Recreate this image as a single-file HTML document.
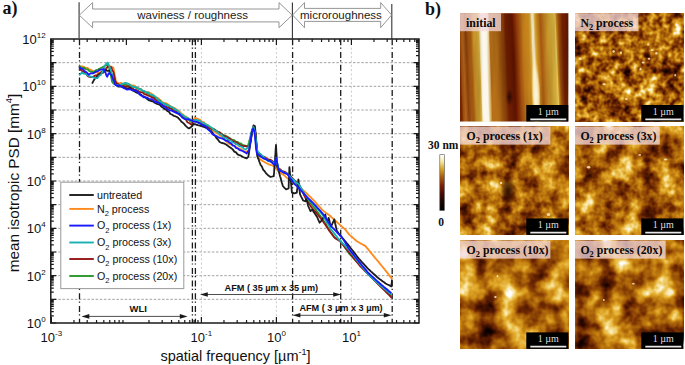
<!DOCTYPE html>
<html><head><meta charset="utf-8"><style>
html,body{margin:0;padding:0;background:#fff;overflow:hidden;width:685px;height:365px;}
svg{display:block;}
.gh{stroke:#999;stroke-width:0.9;stroke-dasharray:2.5 1.65;stroke-dashoffset:0.8;}
.gv{stroke:#c4c4c4;stroke-width:0.9;stroke-dasharray:2 2.3;}
.dd{stroke:#1a1a1a;stroke-width:1.3;stroke-dasharray:6 2.2 1.2 3.3;}
text{font-family:"Liberation Sans",sans-serif;fill:#111;}
.lg{font-size:10.7px;}
.ab{font-size:9.6px;font-weight:bold;}
.tl{font-size:13px;}
.ax{font-size:14.5px;}
.ay{font-size:15.3px;}
.tw{font-size:11.5px;fill:#1a1a1a;}
.pl{font-family:"Liberation Serif",serif;font-weight:bold;font-size:18px;}
.il{font-family:"Liberation Serif",serif;font-weight:bold;font-size:11.8px;fill:#0a0a0a;}
.sb{font-family:"Liberation Serif",serif;font-size:10px;fill:#dedede;}
.cb{font-family:"Liberation Serif",serif;font-weight:bold;font-size:11.5px;}
</style></head><body>
<svg width="685" height="365" viewBox="0 0 685 365">
<defs>
<filter id="f1" filterUnits="userSpaceOnUse" x="575.0" y="13.2" width="108.3" height="108.3" color-interpolation-filters="sRGB">
<feTurbulence type="fractalNoise" baseFrequency="0.05" numOctaves="2" seed="5"/>
<feColorMatrix type="matrix" values="1 0 0 0 0 1 0 0 0 0 1 0 0 0 0 0 0 0 0 1" result="A"/>
<feTurbulence type="fractalNoise" baseFrequency="0.160" numOctaves="2" seed="105"/>
<feColorMatrix type="matrix" values="1 0 0 0 0 1 0 0 0 0 1 0 0 0 0 0 0 0 0 1" result="Bn"/>
<feComposite in="A" in2="Bn" operator="arithmetic" k1="0" k2="0.980" k3="0.910" k4="-0.415"/>
<feColorMatrix type="matrix" values="1 0 0 0 0 1 0 0 0 0 1 0 0 0 0 0 0 0 0 1"/>
<feComponentTransfer><feFuncR type="table" tableValues="0 0.12 0.29 0.46 0.62 0.76 0.88 0.96 1"/><feFuncG type="table" tableValues="0 0.02 0.08 0.18 0.34 0.49 0.66 0.85 1"/><feFuncB type="table" tableValues="0 0 0 0.01 0.03 0.06 0.16 0.5 1"/></feComponentTransfer>
</filter>
<filter id="f2" filterUnits="userSpaceOnUse" x="460.0" y="126.6" width="108.3" height="108.3" color-interpolation-filters="sRGB">
<feTurbulence type="fractalNoise" baseFrequency="0.05" numOctaves="2" seed="11"/>
<feColorMatrix type="matrix" values="1 0 0 0 0 1 0 0 0 0 1 0 0 0 0 0 0 0 0 1" result="A"/>
<feTurbulence type="fractalNoise" baseFrequency="0.160" numOctaves="2" seed="111"/>
<feColorMatrix type="matrix" values="1 0 0 0 0 1 0 0 0 0 1 0 0 0 0 0 0 0 0 1" result="Bn"/>
<feComposite in="A" in2="Bn" operator="arithmetic" k1="0" k2="1.062" k3="0.500" k4="-0.236"/>
<feColorMatrix type="matrix" values="1 0 0 0 0 1 0 0 0 0 1 0 0 0 0 0 0 0 0 1"/>
<feComponentTransfer><feFuncR type="table" tableValues="0 0.12 0.29 0.46 0.62 0.76 0.88 0.96 1"/><feFuncG type="table" tableValues="0 0.02 0.08 0.18 0.34 0.49 0.66 0.85 1"/><feFuncB type="table" tableValues="0 0 0 0.01 0.03 0.06 0.16 0.5 1"/></feComponentTransfer>
</filter>
<filter id="f3" filterUnits="userSpaceOnUse" x="575.0" y="126.6" width="108.3" height="108.3" color-interpolation-filters="sRGB">
<feTurbulence type="fractalNoise" baseFrequency="0.05" numOctaves="2" seed="23"/>
<feColorMatrix type="matrix" values="1 0 0 0 0 1 0 0 0 0 1 0 0 0 0 0 0 0 0 1" result="A"/>
<feTurbulence type="fractalNoise" baseFrequency="0.160" numOctaves="2" seed="123"/>
<feColorMatrix type="matrix" values="1 0 0 0 0 1 0 0 0 0 1 0 0 0 0 0 0 0 0 1" result="Bn"/>
<feComposite in="A" in2="Bn" operator="arithmetic" k1="0" k2="1.020" k3="0.480" k4="-0.195"/>
<feColorMatrix type="matrix" values="1 0 0 0 0 1 0 0 0 0 1 0 0 0 0 0 0 0 0 1"/>
<feComponentTransfer><feFuncR type="table" tableValues="0 0.12 0.29 0.46 0.62 0.76 0.88 0.96 1"/><feFuncG type="table" tableValues="0 0.02 0.08 0.18 0.34 0.49 0.66 0.85 1"/><feFuncB type="table" tableValues="0 0 0 0.01 0.03 0.06 0.16 0.5 1"/></feComponentTransfer>
</filter>
<filter id="f4" filterUnits="userSpaceOnUse" x="460.0" y="240.6" width="108.3" height="108.3" color-interpolation-filters="sRGB">
<feTurbulence type="fractalNoise" baseFrequency="0.04" numOctaves="2" seed="37"/>
<feColorMatrix type="matrix" values="1 0 0 0 0 1 0 0 0 0 1 0 0 0 0 0 0 0 0 1" result="A"/>
<feTurbulence type="fractalNoise" baseFrequency="0.128" numOctaves="2" seed="137"/>
<feColorMatrix type="matrix" values="1 0 0 0 0 1 0 0 0 0 1 0 0 0 0 0 0 0 0 1" result="Bn"/>
<feComposite in="A" in2="Bn" operator="arithmetic" k1="0" k2="1.260" k3="0.420" k4="-0.270"/>
<feColorMatrix type="matrix" values="1 0 0 0 0 1 0 0 0 0 1 0 0 0 0 0 0 0 0 1"/>
<feComponentTransfer><feFuncR type="table" tableValues="0 0.12 0.29 0.46 0.62 0.76 0.88 0.96 1"/><feFuncG type="table" tableValues="0 0.02 0.08 0.18 0.34 0.49 0.66 0.85 1"/><feFuncB type="table" tableValues="0 0 0 0.01 0.03 0.06 0.16 0.5 1"/></feComponentTransfer>
</filter>
<filter id="f5" filterUnits="userSpaceOnUse" x="575.0" y="240.6" width="108.3" height="108.3" color-interpolation-filters="sRGB">
<feTurbulence type="fractalNoise" baseFrequency="0.04" numOctaves="2" seed="41"/>
<feColorMatrix type="matrix" values="1 0 0 0 0 1 0 0 0 0 1 0 0 0 0 0 0 0 0 1" result="A"/>
<feTurbulence type="fractalNoise" baseFrequency="0.128" numOctaves="2" seed="141"/>
<feColorMatrix type="matrix" values="1 0 0 0 0 1 0 0 0 0 1 0 0 0 0 0 0 0 0 1" result="Bn"/>
<feComposite in="A" in2="Bn" operator="arithmetic" k1="0" k2="1.350" k3="0.450" k4="-0.350"/>
<feColorMatrix type="matrix" values="1 0 0 0 0 1 0 0 0 0 1 0 0 0 0 0 0 0 0 1"/>
<feComponentTransfer><feFuncR type="table" tableValues="0 0.12 0.29 0.46 0.62 0.76 0.88 0.96 1"/><feFuncG type="table" tableValues="0 0.02 0.08 0.18 0.34 0.49 0.66 0.85 1"/><feFuncB type="table" tableValues="0 0 0 0.01 0.03 0.06 0.16 0.5 1"/></feComponentTransfer>
</filter>
<linearGradient id="gi" gradientUnits="userSpaceOnUse" x1="460" y1="0" x2="568.3" y2="0" gradientTransform="rotate(-2.3 514 67)"><stop offset="0.0000" stop-color="#7a2800"/><stop offset="0.0139" stop-color="#a05010"/><stop offset="0.0369" stop-color="#b86818"/><stop offset="0.0646" stop-color="#904010"/><stop offset="0.0877" stop-color="#a85c10"/><stop offset="0.1108" stop-color="#b06010"/><stop offset="0.1339" stop-color="#c89028"/><stop offset="0.1662" stop-color="#d0a030"/><stop offset="0.1847" stop-color="#e0b848"/><stop offset="0.1939" stop-color="#f0d878"/><stop offset="0.2078" stop-color="#fffaf0"/><stop offset="0.2447" stop-color="#fffaf0"/><stop offset="0.2585" stop-color="#e0b850"/><stop offset="0.2678" stop-color="#d0a030"/><stop offset="0.2816" stop-color="#b87018"/><stop offset="0.3416" stop-color="#b87018"/><stop offset="0.3786" stop-color="#a05810"/><stop offset="0.4155" stop-color="#8a3a08"/><stop offset="0.4340" stop-color="#702000"/><stop offset="0.4986" stop-color="#5e1400"/><stop offset="0.5171" stop-color="#802400"/><stop offset="0.5540" stop-color="#a85010"/><stop offset="0.5910" stop-color="#c07818"/><stop offset="0.6464" stop-color="#d09020"/><stop offset="0.6648" stop-color="#e0b040"/><stop offset="0.6787" stop-color="#fff0c8"/><stop offset="0.6925" stop-color="#fff0c8"/><stop offset="0.7064" stop-color="#e0b040"/><stop offset="0.7202" stop-color="#c89020"/><stop offset="0.7572" stop-color="#a85810"/><stop offset="0.7941" stop-color="#c08020"/><stop offset="0.8310" stop-color="#d0a030"/><stop offset="0.8772" stop-color="#e0b840"/><stop offset="0.8957" stop-color="#f0d060"/><stop offset="0.9049" stop-color="#d09020"/><stop offset="0.9234" stop-color="#a05010"/><stop offset="0.9603" stop-color="#702000"/><stop offset="1.0000" stop-color="#6a1c00"/></linearGradient>
<filter id="fi" filterUnits="userSpaceOnUse" x="460" y="13.2" width="108.3" height="108.3" color-interpolation-filters="sRGB">
<feTurbulence type="fractalNoise" baseFrequency="0.12 0.01" numOctaves="3" seed="7"/>
<feColorMatrix type="matrix" values="0 0 0 0 0  0 0 0 0 0  0 0 0 0 0  1.2 0 0 0 -0.35"/>
</filter>
<linearGradient id="gcb" x1="0" y1="0" x2="0" y2="1"><stop offset="0" stop-color="#fff"/><stop offset="0.12" stop-color="#f7e9a8"/><stop offset="0.25" stop-color="#d8a828"/><stop offset="0.40" stop-color="#a85a10"/><stop offset="0.55" stop-color="#7e2006"/><stop offset="0.70" stop-color="#4a0a03"/><stop offset="0.85" stop-color="#1a0500"/><stop offset="1" stop-color="#000"/></linearGradient>
<radialGradient id="gds2"><stop offset="0" stop-color="#1a0200" stop-opacity="0.9"/><stop offset="0.55" stop-color="#2a0600" stop-opacity="0.55"/><stop offset="1" stop-color="#3a0a00" stop-opacity="0"/></radialGradient>
<radialGradient id="gst3"><stop offset="0" stop-color="#fffaf0" stop-opacity="0.95"/><stop offset="0.5" stop-color="#fff6e0" stop-opacity="0.8"/><stop offset="1" stop-color="#f8e0a0" stop-opacity="0"/></radialGradient>
<linearGradient id="gst" x1="0" y1="0" x2="1" y2="0"><stop offset="0" stop-color="#fff8e8" stop-opacity="0"/><stop offset="0.35" stop-color="#fffaf0" stop-opacity="0.85"/><stop offset="0.6" stop-color="#fffaf0" stop-opacity="0.85"/><stop offset="1" stop-color="#fff8e8" stop-opacity="0"/></linearGradient>
<linearGradient id="gst2" x1="0" y1="0" x2="1" y2="0"><stop offset="0" stop-color="#fff4d8" stop-opacity="0"/><stop offset="0.4" stop-color="#fff6e0" stop-opacity="0.75"/><stop offset="0.6" stop-color="#fff6e0" stop-opacity="0.75"/><stop offset="1" stop-color="#fff4d8" stop-opacity="0"/></linearGradient>
<radialGradient id="gds"><stop offset="0" stop-color="#200400" stop-opacity="0.9"/><stop offset="1" stop-color="#300800" stop-opacity="0"/></radialGradient>
<radialGradient id="gbs"><stop offset="0" stop-color="#fff8e0" stop-opacity="0.9"/><stop offset="1" stop-color="#f0d070" stop-opacity="0"/></radialGradient>
</defs>
<line x1="50.8" y1="62.67" x2="419.0" y2="62.67" class="gh"/>
<line x1="50.8" y1="86.33" x2="419.0" y2="86.33" class="gh"/>
<line x1="50.8" y1="110.00" x2="419.0" y2="110.00" class="gh"/>
<line x1="50.8" y1="133.67" x2="419.0" y2="133.67" class="gh"/>
<line x1="50.8" y1="157.34" x2="419.0" y2="157.34" class="gh"/>
<line x1="50.8" y1="181.00" x2="419.0" y2="181.00" class="gh"/>
<line x1="50.8" y1="204.67" x2="419.0" y2="204.67" class="gh"/>
<line x1="50.8" y1="228.34" x2="419.0" y2="228.34" class="gh"/>
<line x1="50.8" y1="252.00" x2="419.0" y2="252.00" class="gh"/>
<line x1="50.8" y1="275.67" x2="419.0" y2="275.67" class="gh"/>
<line x1="50.8" y1="299.34" x2="419.0" y2="299.34" class="gh"/>
<line x1="201.40" y1="39.0" x2="201.40" y2="323.0" class="gv"/>
<line x1="276.40" y1="39.0" x2="276.40" y2="323.0" class="gv"/>
<line x1="351.40" y1="39.0" x2="351.40" y2="323.0" class="gv"/>
<line x1="79.5" y1="39.3" x2="79.5" y2="323.0" class="dd"/>
<line x1="192.4" y1="39.3" x2="192.4" y2="323.0" class="dd"/>
<line x1="195.4" y1="39.3" x2="195.4" y2="323.0" class="dd"/>
<line x1="292.6" y1="39.3" x2="292.6" y2="323.0" class="dd"/>
<line x1="340.7" y1="39.3" x2="340.7" y2="323.0" class="dd"/>
<line x1="392.2" y1="39.3" x2="392.2" y2="323.0" class="dd"/>
<polyline points="79.0,67.1 81.0,66.3 83.0,66.5 85.2,67.6 87.3,67.8 89.1,69.3 91.0,69.7 92.8,71.2 94.6,71.9 96.5,72.5 98.3,73.3 100.2,72.4 102.0,71.0 103.5,70.3 105.0,68.3 106.5,67.8 108.6,65.8 111.0,66.5 113.4,67.8 113.8,69.8 114.1,71.7 114.5,73.7 114.9,75.6 115.3,77.6 115.6,79.5 116.0,81.5 118.8,83.6 120.9,82.9 122.9,84.0 125.0,83.5 127.5,83.9 130.0,84.5 131.8,85.6 133.7,85.3 135.6,86.7 137.4,87.5 139.1,88.7 140.8,88.9 142.6,90.8 144.3,91.7 146.0,92.0 148.1,92.1 150.1,92.9 152.2,94.3 153.8,95.4 155.5,97.0 157.1,97.5 158.8,98.8 160.4,100.1 162.1,102.0 163.9,102.8 165.8,103.1 167.7,104.2 169.5,105.5 171.3,106.5 173.2,107.6 175.1,108.4 176.9,109.8 178.4,110.7 179.9,111.9 181.3,113.5 182.8,114.5 184.3,116.0 186.2,116.5 188.2,118.7 190.1,119.5 192.0,120.5 193.1,120.2 195.2,117.7 197.1,118.7 198.9,119.4 200.5,120.0 202.2,121.8 203.8,122.2 205.4,123.8 207.1,124.7 208.4,126.0 209.7,128.0 211.3,129.0 213.0,130.5 214.6,131.6 216.2,133.0 217.9,133.6 219.5,135.2 221.2,136.1 222.8,137.1 224.1,138.3 225.3,140.0 226.6,141.8 227.8,142.8 229.4,144.0 231.1,144.5 232.7,145.4 234.3,145.6 236.0,146.7 237.6,148.1 239.3,148.5 240.9,149.1 242.5,150.3 244.2,151.3 245.8,151.9 247.4,151.1 249.0,150.0 249.3,148.2 249.5,146.4 249.8,144.5 250.1,142.7 250.4,140.9 250.6,139.1 250.9,137.3 251.2,135.5 251.5,133.6 251.7,131.8 252.0,130.0 253.0,128.4 254.0,127.0 254.5,129.3 255.0,131.7 255.5,134.0 255.7,135.8 255.8,137.6 255.9,139.4 256.1,141.2 256.2,143.0 256.4,144.8 256.6,146.6 256.7,148.4 256.9,150.2 257.0,152.0 257.4,154.0 257.8,156.0 258.2,158.0 259.8,158.9 261.3,160.0 262.9,161.3 264.4,162.0 266.0,163.0 267.7,163.7 269.4,164.6 271.2,165.0 272.9,165.8 274.6,167.1 276.3,168.9 277.9,170.8 279.6,172.0 281.2,173.4 282.9,174.5 284.5,175.6 286.2,177.2 287.8,178.5 289.3,180.1 290.8,181.0 292.3,181.9 293.9,183.3 295.4,183.8 296.9,185.2 298.4,186.7 299.9,187.4 301.5,188.8 303.1,190.2 304.8,191.7 306.4,193.1 307.8,194.5 309.1,195.8 310.5,197.2 311.9,198.6 313.2,199.9 314.6,201.3 316.0,202.8 317.3,204.3 318.7,205.9 320.1,207.4 321.4,208.9 322.8,210.4 324.4,211.6 326.1,212.9 327.8,214.1 329.4,215.3 330.8,216.5 332.1,217.8 333.5,219.0 334.9,220.2 336.2,221.5 337.6,222.7 339.0,223.9 340.3,225.2 341.7,226.4 343.1,227.6 344.4,228.9 345.8,230.1 346.9,231.6 348.1,233.1 349.2,234.6 350.7,235.9 352.3,237.3 353.8,238.6 355.4,240.0 356.9,241.3 358.6,242.3 360.3,243.2 362.1,244.2 363.8,245.1 365.5,246.1 366.7,247.6 368.0,249.1 369.2,250.6 370.4,252.1 371.6,253.6 372.9,255.1 374.1,256.6 375.3,258.1 376.5,259.5 377.7,260.9 378.9,262.4 380.1,263.9 381.3,265.3 382.5,266.8 383.7,268.2 384.9,269.8 386.2,271.3 387.4,272.9 388.6,274.5 389.8,276.1 391.1,277.6 392.3,279.2" fill="none" stroke="#ff8a1c" stroke-width="1.8" stroke-linejoin="round"/>
<polyline points="79.0,65.8 80.8,67.3 82.5,68.1 84.2,67.7 86.0,69.2 87.7,69.3 89.4,71.1 91.1,71.6 92.8,72.0 94.5,71.4 96.2,70.0 98.0,69.5 99.7,68.5 101.5,67.7 103.2,66.8 105.0,65.8 108.0,64.4 108.7,66.0 109.3,68.4 110.0,70.5 110.3,72.3 110.7,74.2 111.0,76.0 111.3,77.8 111.7,79.7 112.0,81.5 113.4,83.6 115.7,84.4 118.0,85.5 120.3,85.5 122.7,85.5 125.0,84.5 127.5,85.6 130.0,85.5 131.8,86.3 133.7,86.9 135.6,87.4 137.4,88.5 139.1,88.7 140.8,89.6 142.6,91.0 144.3,91.7 146.0,92.8 148.1,93.5 150.1,95.0 152.2,95.3 153.8,96.6 155.5,97.9 157.1,99.0 158.8,100.0 160.4,101.0 162.1,103.0 163.9,103.6 165.8,104.2 167.7,105.6 169.5,106.5 171.3,108.2 173.2,108.8 175.1,109.2 176.9,110.7 178.4,112.5 179.9,113.6 181.3,114.8 182.8,116.3 184.3,117.0 185.8,118.4 187.4,119.4 188.9,119.8 190.5,121.7 192.0,122.0 193.0,120.0 194.7,121.4 196.3,121.2 198.0,122.5 199.7,123.2 201.3,123.7 203.0,124.5 204.7,125.2 206.3,125.9 208.0,127.1 209.6,127.4 211.3,128.4 212.9,128.6 214.6,129.5 216.2,130.8 217.9,131.8 219.5,132.3 221.2,133.4 222.8,134.7 224.4,135.4 226.1,136.1 227.7,136.8 229.4,137.9 231.0,139.0 232.7,140.0 234.3,140.2 235.9,141.8 237.6,141.9 239.2,143.3 240.9,143.5 242.5,145.0 244.2,145.3 246.1,145.9 248.0,146.0 248.4,144.2 248.9,142.4 249.3,140.7 249.8,138.9 250.2,137.1 250.7,135.3 251.1,133.6 251.6,131.8 252.0,130.0 253.0,128.5 254.0,127.0 254.5,129.0 255.0,131.2 255.5,133.0 255.7,134.9 255.8,136.8 256.0,138.7 256.2,140.6 256.3,142.4 256.5,144.3 256.7,146.2 256.8,148.1 257.0,150.0 257.2,152.5 257.4,155.0 259.2,156.0 261.0,156.7 262.8,157.5 264.6,158.8 266.4,159.7 268.4,161.0 270.5,161.5 272.6,161.8 274.6,163.0 275.6,165.0 276.6,166.5 277.7,168.4 278.7,169.6 280.5,170.3 282.3,171.8 284.2,172.1 286.0,173.7 287.8,174.5 289.2,175.6 290.7,177.0 292.1,179.0 293.6,179.6 295.0,181.4 296.4,183.1 297.9,183.9 299.3,185.5 300.3,187.3 301.3,189.1 302.3,190.9 303.4,192.6 304.4,194.4 305.4,196.2 306.4,198.0 307.6,199.4 308.7,200.8 309.9,202.2 311.1,203.7 312.3,205.1 313.4,206.5 314.6,207.9 315.8,209.5 316.9,211.2 318.1,212.8 319.3,214.5 320.5,216.1 321.6,217.8 322.8,219.4 323.8,221.1 324.9,222.7 325.9,224.3 326.9,226.0 327.9,227.7 328.9,229.3 330.0,230.9 331.0,232.6 332.1,234.2 333.2,235.9 334.3,237.5 336.2,238.3 338.1,239.2 340.0,240.0 341.0,241.5 342.0,243.1 343.1,244.6 344.1,246.1 345.1,247.7 346.1,249.2 347.2,250.7 348.2,252.3 349.2,253.8 350.6,255.2 351.9,256.6 353.2,258.0 354.6,259.4 355.9,260.8 357.3,262.2 358.6,263.6 360.0,265.0 361.2,266.4 362.5,267.8 363.8,269.1 365.0,270.5 366.2,271.9 367.5,273.2 368.8,274.6 370.0,276.0 371.4,277.4 372.9,278.7 374.3,280.1 375.7,281.4 377.1,282.8 378.6,284.1 380.0,285.5 381.4,286.8 382.9,288.1 384.3,289.4 385.7,290.8 387.1,292.1 388.5,293.4 390.0,294.7 391.4,296.0" fill="none" stroke="#289628" stroke-width="1.8" stroke-linejoin="round"/>
<polyline points="79.0,69.2 80.7,69.8 82.3,71.1 84.0,72.0 85.6,73.4 87.1,75.3 88.7,76.7 90.8,77.0 93.0,77.0 95.0,75.5 97.0,75.3 99.0,73.7 101.0,73.5 103.0,72.8 105.0,71.2 106.0,69.3 107.0,67.6 108.0,66.4 111.3,67.1 112.3,70.2 113.4,71.9 113.8,73.8 114.2,75.7 114.6,77.7 115.0,79.6 115.4,81.5 116.8,83.6 118.5,84.4 120.3,85.7 122.0,86.0 124.0,86.2 126.0,86.7 128.0,86.3 130.0,87.0 131.8,88.1 133.7,89.3 135.6,89.7 137.4,90.5 139.1,91.6 140.8,92.3 142.6,92.3 144.3,94.1 146.0,94.5 148.1,95.6 150.1,96.2 152.2,97.5 153.8,97.8 155.5,100.0 157.1,100.5 158.8,101.8 160.4,103.5 162.1,104.5 163.9,105.9 165.8,106.5 167.7,107.7 169.5,108.0 171.3,108.9 173.2,110.4 175.1,110.9 176.9,112.0 178.4,113.9 179.9,115.1 181.3,115.3 182.8,116.7 184.3,118.5 185.9,119.6 187.4,122.2 189.0,123.0 190.5,123.9 192.0,125.0 192.5,122.6 193.0,119.9 194.7,120.4 196.4,121.5 198.1,122.2 199.7,123.0 201.4,124.1 203.1,124.8 205.0,125.7 206.9,126.8 208.8,127.4 210.8,128.5 212.7,129.2 214.6,129.7 216.2,131.2 217.9,131.9 219.5,132.3 221.2,134.0 222.8,135.1 224.4,136.0 226.1,136.7 227.7,137.8 229.4,138.3 231.0,139.6 232.7,140.9 234.3,141.6 236.0,142.3 237.6,143.1 239.3,144.5 241.4,145.5 243.4,146.2 245.4,146.0 247.5,147.0 248.8,145.8 250.0,144.0 250.4,142.0 250.7,140.0 251.1,138.0 251.4,136.0 251.8,134.0 252.1,132.0 252.5,130.0 254.0,127.0 254.5,128.9 255.0,130.7 255.5,133.0 255.7,134.9 255.8,136.8 256.0,138.7 256.2,140.6 256.3,142.4 256.5,144.3 256.7,146.2 256.8,148.1 257.0,150.0 257.4,153.1 259.2,154.0 261.0,155.5 262.8,156.7 264.6,157.0 266.4,158.5 268.4,159.5 270.5,159.8 272.6,161.3 274.6,162.0 275.6,163.5 276.6,165.6 277.7,167.4 278.7,168.5 280.5,169.6 282.3,171.2 284.2,171.6 286.0,172.5 287.8,174.0 289.2,175.5 290.7,176.3 292.1,177.8 293.6,179.4 295.0,181.0 296.4,181.9 297.9,183.2 299.3,185.0 300.1,186.7 300.9,188.3 301.7,190.0 302.5,191.7 303.2,193.3 304.0,195.0 304.8,196.7 305.6,198.3 306.4,200.0 307.6,201.8 308.9,203.6 310.1,205.3 311.4,207.1 312.6,208.6 313.9,210.0 315.1,211.4 316.3,212.9 317.6,214.5 318.9,216.1 320.2,217.8 321.5,219.4 322.8,221.0 323.9,222.7 325.0,224.3 326.1,225.9 327.2,227.6 328.3,229.2 329.4,230.9 330.6,232.4 331.7,233.9 332.9,235.3 334.0,236.8 335.2,238.3 336.8,239.3 338.4,240.3 340.0,241.3 341.1,242.7 342.3,244.1 343.4,245.5 344.6,246.9 345.8,248.3 346.9,249.7 348.1,251.1 349.2,252.5 350.4,254.0 351.6,255.5 352.8,257.0 354.0,258.5 355.2,260.0 356.4,261.5 357.6,263.0 358.8,264.5 360.0,266.0 361.4,267.4 362.9,268.9 364.3,270.3 365.7,271.7 367.1,273.1 368.6,274.6 370.0,276.0 371.4,277.4 372.9,278.9 374.3,280.3 375.7,281.7 377.1,283.1 378.6,284.6 380.0,286.0 381.3,287.3 382.6,288.6 383.9,289.9 385.2,291.2 386.6,292.6 387.9,293.9 389.2,295.2 390.5,296.5 391.8,297.8" fill="none" stroke="#961616" stroke-width="1.8" stroke-linejoin="round"/>
<polyline points="92.1,83.6 93.2,81.4 94.4,79.3 95.5,78.0 97.2,76.5 99.0,75.3 100.5,73.5 102.0,72.0 103.6,71.1 105.1,69.9 107.2,70.8 109.2,70.5 110.6,73.0 112.0,74.7 112.5,76.9 113.1,77.9 113.6,80.1 114.2,81.5 114.7,83.6 116.3,84.6 118.0,86.5 120.3,86.4 122.7,87.1 125.0,88.0 127.5,88.6 130.0,88.0 131.8,89.7 133.7,90.9 135.6,92.1 137.4,92.9 139.1,93.4 140.7,94.4 142.3,95.8 144.0,96.5 145.8,97.9 147.5,99.2 149.2,100.4 151.0,101.0 152.8,101.3 154.7,102.8 157.1,103.9 159.6,104.7 161.2,106.4 162.9,107.6 164.5,109.0 166.0,109.6 167.5,111.2 168.9,111.7 170.4,114.0 171.9,114.5 173.6,115.8 175.2,116.2 176.9,117.0 178.4,118.1 180.0,119.8 181.4,121.7 182.7,122.6 184.1,123.9 185.7,125.9 187.4,127.4 189.0,128.4 190.7,127.2 192.3,126.0 193.3,124.0 195.5,124.4 197.7,125.2 199.9,125.6 202.2,126.3 204.6,127.2 206.6,128.1 208.7,129.6 211.4,131.3 212.6,132.8 213.9,134.9 215.1,135.8 216.3,137.9 217.9,139.5 219.6,142.0 221.8,143.0 223.9,143.4 226.1,144.5 227.8,145.8 229.4,146.9 231.0,148.0 232.7,149.4 234.3,151.6 236.0,152.4 237.6,154.4 239.3,155.1 240.9,155.7 242.6,156.8 244.6,157.7 246.7,158.4 248.3,156.8 248.6,155.0 248.9,153.1 249.2,151.3 249.4,149.4 249.7,147.6 250.0,145.7 250.3,143.9 250.6,142.1 250.9,140.2 251.2,138.4 251.4,136.5 251.7,134.7 252.0,132.8 252.3,131.0 252.7,128.9 253.1,127.1 253.5,125.4 255.0,126.2 255.1,128.1 255.3,129.9 255.4,131.8 255.6,133.7 255.7,135.5 255.9,137.4 256.0,139.2 256.1,141.1 256.3,143.0 256.4,144.8 256.6,146.7 256.7,148.6 256.9,150.4 257.0,152.3 257.2,154.1 257.3,156.0 257.9,158.0 258.6,159.3 259.2,161.3 259.9,163.0 260.7,165.1 261.5,165.9 262.3,167.5 263.1,169.6 264.8,171.4 266.4,173.7 268.4,175.6 270.5,177.0 273.8,176.1 273.9,174.3 274.1,172.4 274.2,170.6 274.3,168.8 274.4,166.9 274.6,165.1 274.7,163.3 274.8,161.4 275.0,159.6 275.1,157.7 275.2,155.9 275.4,154.1 275.5,152.2 275.6,150.4 275.7,148.6 275.9,146.7 276.0,144.9 276.1,146.9 276.2,148.8 276.3,150.8 276.4,152.8 276.6,154.8 276.7,156.7 276.8,158.7 276.9,160.7 277.0,162.6 277.1,164.6 277.6,166.6 278.1,168.6 278.6,170.5 279.1,172.5 279.6,174.5 280.1,176.4 280.7,178.3 281.2,180.2 281.7,182.2 282.3,184.1 282.8,186.0 284.5,187.8 286.1,189.3 288.6,188.5 288.7,186.6 288.7,184.6 288.8,182.7 288.9,180.7 289.0,178.8 289.0,176.8 289.1,174.9 289.2,172.9 289.3,171.0 289.3,169.0 289.4,167.1 289.6,169.2 289.8,171.2 290.0,173.2 290.3,175.3 290.5,177.3 290.7,179.4 290.9,181.3 291.0,183.2 291.2,185.1 291.4,186.9 291.6,188.8 291.7,190.7 291.9,192.6 294.4,193.4 296.8,192.6 297.0,190.7 297.3,188.8 297.5,186.9 297.7,185.1 297.9,183.2 298.2,181.3 298.4,179.4 298.6,181.2 298.8,183.1 299.0,184.9 299.2,186.8 299.4,188.7 299.6,190.5 299.8,192.3 300.0,194.2 301.0,196.3 302.1,198.4 303.1,200.5 305.6,201.3 306.4,198.0 306.8,199.9 307.2,201.8 307.6,203.6 308.0,205.5 308.8,207.4 309.7,209.3 310.5,211.2 312.2,209.6 313.4,211.4 314.6,213.3 315.9,215.2 317.1,217.0 317.9,218.9 318.8,220.8 319.6,222.7 321.2,221.1 322.2,219.4 323.2,217.8 324.3,216.2 325.3,214.5 325.7,216.6 326.1,218.6 326.6,220.6 327.0,222.7 327.8,220.2 328.6,217.8 329.1,219.6 329.6,221.4 330.0,223.2 330.5,225.0 331.0,226.8 331.8,225.0 332.6,223.1 333.5,221.2 334.3,219.4 334.7,221.3 335.1,223.2 335.6,225.2 336.0,227.1 336.4,229.0 336.8,230.9 338.1,232.6 339.3,234.2 340.5,235.7 341.8,237.2 343.0,238.7 344.2,240.1 345.5,241.6 346.7,243.1 348.0,244.6 349.2,246.1 350.4,247.7 351.6,249.2 352.8,250.8 354.0,252.4 355.2,253.9 356.4,255.5 357.6,257.0 358.8,258.6 360.2,260.1 361.5,261.6 362.9,263.1 364.3,264.6 365.7,266.1 367.0,267.6 368.4,269.1 369.8,270.3 371.1,271.6 372.5,272.8 373.8,274.0 375.2,275.2 376.5,276.5 377.9,277.7 379.4,278.9 381.0,280.0 382.5,281.2 384.1,282.3 385.6,283.5 387.5,284.5 389.5,285.4 391.4,286.4 391.6,284.2 391.8,281.9 392.0,279.7" fill="none" stroke="#1c1c1c" stroke-width="1.8" stroke-linejoin="round"/>
<polyline points="79.0,75.3 80.4,74.1 81.8,72.6 83.9,73.6 86.0,74.0 87.8,75.3 89.6,76.4 91.4,76.7 93.5,77.5 95.5,78.2 97.6,78.0 99.3,75.7 101.0,74.7 101.7,73.0 102.4,72.0 103.1,69.9 103.8,68.6 104.5,66.4 106.0,64.0 107.6,62.6 108.3,64.2 109.1,65.5 109.8,67.6 110.6,69.2 111.1,71.2 111.6,73.1 112.1,75.1 112.5,77.0 113.0,79.0 113.5,80.9 114.0,82.9 116.0,85.0 118.0,85.4 120.0,85.5 121.9,84.0 123.8,83.4 125.7,82.9 127.8,83.6 130.0,84.9 131.8,86.3 133.7,86.8 135.6,86.7 137.4,88.0 139.1,89.3 140.8,89.2 142.6,90.7 144.3,90.9 146.0,92.3 148.1,92.4 150.1,94.5 152.2,94.8 153.8,95.6 155.5,96.9 157.1,98.5 158.8,100.6 160.4,101.9 162.1,102.8 163.9,103.3 165.8,105.0 167.7,105.2 169.5,105.9 171.3,107.2 173.2,107.6 175.1,109.7 176.9,110.2 178.4,111.7 179.9,113.3 181.3,114.5 182.8,114.9 184.3,116.4 186.2,117.4 188.2,118.2 190.1,119.4 192.0,121.0 194.0,120.2 196.4,120.0 198.9,120.6 200.6,121.3 202.2,122.6 203.8,122.9 205.5,124.3 207.9,125.1 209.4,126.4 210.9,127.2 212.4,128.3 213.9,129.9 215.4,130.7 216.8,131.6 218.3,132.9 219.8,134.3 221.3,134.7 222.8,136.3 224.5,137.8 226.1,137.8 227.8,139.5 229.4,140.6 231.1,140.7 232.7,142.5 234.4,143.0 236.0,144.2 237.7,144.6 239.3,146.1 240.9,146.5 242.6,147.4 244.2,149.0 245.8,149.4 247.4,147.9 249.0,147.0 249.3,145.1 249.7,143.2 250.0,141.3 250.3,139.4 250.7,137.6 251.0,135.7 251.3,133.8 251.7,131.9 252.0,130.0 253.5,127.0 254.2,129.8 255.0,132.0 255.2,133.8 255.4,135.6 255.6,137.4 255.8,139.2 256.0,141.0 256.2,142.8 256.4,144.6 256.6,146.4 256.8,148.2 257.0,150.0 258.2,151.8 259.5,153.2 260.8,154.0 262.0,155.5 263.5,156.8 264.9,158.3 266.4,159.7 268.4,160.8 270.5,161.0 272.6,162.4 274.6,163.0 275.3,160.8 276.0,158.0 276.4,159.9 276.9,161.9 277.4,163.8 277.8,165.7 278.2,167.7 278.7,169.6 280.5,170.9 282.3,171.1 284.2,173.0 286.0,173.1 287.8,174.5 289.2,175.7 290.7,177.2 292.1,178.9 293.6,179.6 295.0,181.5 296.4,182.4 297.9,183.5 299.3,185.0 300.3,186.7 301.3,188.4 302.3,190.1 303.4,191.9 304.4,193.6 305.4,195.3 306.4,197.0 307.8,198.4 309.1,199.8 310.5,201.2 311.9,202.7 313.2,204.1 314.6,205.5 316.0,207.1 317.3,208.7 318.7,210.2 320.1,211.8 321.4,213.4 322.8,215.0 323.7,216.6 324.6,218.2 325.5,219.8 326.4,221.4 327.4,222.9 328.3,224.5 329.2,226.1 330.1,227.7 331.0,229.3 332.2,230.8 333.4,232.4 334.6,233.9 335.7,235.4 336.9,236.9 338.1,238.5 339.3,240.0 340.7,241.4 342.1,242.8 343.5,244.2 345.0,245.7 346.4,247.1 347.8,248.5 349.2,249.9 350.4,251.5 351.6,253.1 352.8,254.6 354.0,256.2 355.2,257.8 356.4,259.4 357.6,260.9 358.8,262.5 360.0,264.0 361.2,265.5 362.4,267.0 363.6,268.5 364.8,270.0 366.0,271.5 367.2,273.0 368.4,274.5 369.8,275.8 371.3,277.1 372.7,278.4 374.1,279.8 375.6,281.1 377.0,282.4 378.5,283.7 379.9,285.0 381.3,286.2 382.8,287.4 384.2,288.6 385.6,289.8 387.1,290.9 388.5,292.1 390.0,293.3 391.4,294.5" fill="none" stroke="#18b0b4" stroke-width="1.8" stroke-linejoin="round"/>
<polyline points="79.0,67.1 81.1,68.6 83.2,69.2 84.6,71.0 86.0,71.9 87.3,73.0 88.7,74.7 90.8,73.3 92.8,73.3 94.5,72.7 96.2,71.6 98.0,71.1 99.7,69.9 101.8,69.4 103.8,69.2 104.7,71.5 105.5,72.6 106.3,75.2 107.2,76.7 107.9,75.3 108.6,73.3 111.3,74.7 112.0,76.3 112.7,78.2 113.3,80.1 114.0,81.1 114.7,83.3 115.4,84.9 117.5,85.8 119.5,85.5 121.6,86.3 123.4,87.9 125.2,88.8 127.0,89.7 130.0,89.2 132.1,90.3 134.1,90.2 136.2,91.1 137.7,91.8 139.2,94.0 140.6,95.2 142.1,96.0 143.6,97.3 145.4,97.2 147.3,97.8 149.2,98.8 151.0,99.1 152.8,99.7 154.7,101.6 156.6,102.0 158.4,102.8 160.2,103.6 162.1,105.5 164.0,106.3 165.8,107.7 167.7,109.2 169.5,110.1 171.3,110.5 173.2,111.4 175.2,112.4 177.3,113.3 179.3,113.9 181.0,116.0 182.6,117.8 184.3,118.8 186.6,119.4 188.5,119.1 190.4,120.0 192.3,120.6 193.0,121.5 196.4,121.8 198.1,122.7 199.7,123.3 201.4,124.3 203.0,125.4 204.7,125.8 206.3,127.2 207.6,129.1 209.0,130.2 210.3,131.3 211.7,133.3 213.0,134.6 214.6,135.2 216.3,136.0 217.9,137.1 219.9,137.9 221.9,138.4 223.8,139.3 225.8,140.7 227.8,141.2 229.4,142.7 231.1,143.4 232.7,145.4 234.4,146.0 236.0,147.8 237.7,148.4 239.3,149.8 240.9,150.3 242.6,151.0 244.6,152.1 246.7,153.5 247.9,151.7 249.1,150.2 249.4,148.4 249.6,146.6 249.9,144.7 250.2,142.9 250.4,141.1 250.7,139.3 251.0,137.5 251.3,135.6 251.5,133.8 251.8,132.0 252.5,130.1 253.2,128.5 253.9,130.4 254.6,133.0 254.8,134.9 255.0,136.8 255.1,138.7 255.3,140.6 255.5,142.4 255.7,144.3 255.8,146.2 256.0,148.1 256.2,150.0 256.8,152.7 257.4,154.4 259.0,155.0 260.7,156.5 262.3,157.6 264.2,158.7 266.1,159.1 268.1,160.6 270.0,160.9 271.5,161.9 273.1,163.8 274.6,164.6 275.1,162.4 275.5,160.2 276.0,158.0 276.4,159.9 276.9,161.9 277.4,163.8 277.8,165.7 278.2,167.7 278.7,169.6 280.5,171.0 282.3,171.7 284.2,172.9 286.0,173.5 287.8,174.5 288.9,176.4 290.0,178.0 291.1,179.3 292.2,180.9 293.3,182.5 294.6,184.1 295.9,185.2 297.2,186.3 298.5,188.3 299.9,189.2 301.2,190.8 302.5,192.2 303.8,193.6 305.1,195.0 306.4,196.4 307.8,197.8 309.1,199.1 310.5,200.5 311.9,201.9 313.2,203.2 314.6,204.6 316.0,206.1 317.3,207.6 318.7,209.1 320.1,210.7 321.4,212.2 322.8,213.7 323.8,215.2 324.9,216.8 325.9,218.3 326.9,219.8 327.9,221.4 328.9,222.9 330.0,224.5 331.0,226.0 332.3,227.4 333.6,228.7 334.9,230.1 336.2,231.5 337.4,232.8 338.7,234.2 340.0,235.6 341.3,236.9 342.6,238.3 343.7,240.1 344.8,241.9 345.9,243.7 347.0,245.4 348.1,247.2 349.2,249.0 350.4,250.6 351.6,252.1 352.8,253.6 354.0,255.2 355.2,256.8 356.4,258.3 357.6,259.8 358.8,261.4 360.0,262.8 361.2,264.3 362.4,265.8 363.6,267.2 364.8,268.6 366.0,270.1 367.2,271.6 368.4,273.0 369.8,274.3 371.3,275.6 372.7,276.9 374.1,278.2 375.6,279.6 377.0,280.9 378.5,282.2 379.9,283.5 381.3,284.7 382.8,285.9 384.2,287.1 385.6,288.3 387.1,289.5 388.5,290.7 390.0,291.9 391.4,293.1" fill="none" stroke="#1818ff" stroke-width="1.8" stroke-linejoin="round"/>
<rect x="60.8" y="182.2" width="123" height="106.4" fill="#fff" stroke="#9a9a9a" stroke-width="1"/>
<line x1="69.3" y1="195" x2="93.8" y2="195" stroke="#1c1c1c" stroke-width="1.9"/>
<text x="97" y="198.8" class="lg">untreated</text>
<line x1="69.3" y1="208.9" x2="93.8" y2="208.9" stroke="#ff8a1c" stroke-width="1.9"/>
<text x="97" y="212.7" class="lg">N<tspan font-size="7.5" dy="3.2">2</tspan><tspan dy="-3.2"> process</tspan></text>
<line x1="69.3" y1="225.6" x2="93.8" y2="225.6" stroke="#1818ff" stroke-width="1.9"/>
<text x="97" y="229.4" class="lg">O<tspan font-size="7.5" dy="3.2">2</tspan><tspan dy="-3.2"> process (1x)</tspan></text>
<line x1="69.3" y1="242.5" x2="93.8" y2="242.5" stroke="#18b0b4" stroke-width="1.9"/>
<text x="97" y="246.3" class="lg">O<tspan font-size="7.5" dy="3.2">2</tspan><tspan dy="-3.2"> process (3x)</tspan></text>
<line x1="69.3" y1="259.0" x2="93.8" y2="259.0" stroke="#961616" stroke-width="1.9"/>
<text x="97" y="262.8" class="lg">O<tspan font-size="7.5" dy="3.2">2</tspan><tspan dy="-3.2"> process (10x)</tspan></text>
<line x1="69.3" y1="276.0" x2="93.8" y2="276.0" stroke="#289628" stroke-width="1.9"/>
<text x="97" y="279.8" class="lg">O<tspan font-size="7.5" dy="3.2">2</tspan><tspan dy="-3.2"> process (20x)</tspan></text>
<path d="M51.40 323.00V317.00M51.40 39.00V45.00M73.98 323.00V320.00M73.98 39.00V42.00M87.18 323.00V320.00M87.18 39.00V42.00M96.55 323.00V320.00M96.55 39.00V42.00M103.82 323.00V320.00M103.82 39.00V42.00M109.76 323.00V320.00M109.76 39.00V42.00M114.78 323.00V320.00M114.78 39.00V42.00M119.13 323.00V320.00M119.13 39.00V42.00M122.97 323.00V320.00M122.97 39.00V42.00M126.40 39.00V45.00M148.98 323.00V320.00M148.98 39.00V42.00M162.18 323.00V320.00M162.18 39.00V42.00M171.55 323.00V320.00M171.55 39.00V42.00M178.82 323.00V320.00M178.82 39.00V42.00M184.76 323.00V320.00M184.76 39.00V42.00M189.78 323.00V320.00M189.78 39.00V42.00M194.13 323.00V320.00M194.13 39.00V42.00M197.97 323.00V320.00M197.97 39.00V42.00M201.40 323.00V317.00M201.40 39.00V45.00M223.98 323.00V320.00M223.98 39.00V42.00M237.18 323.00V320.00M237.18 39.00V42.00M246.55 323.00V320.00M246.55 39.00V42.00M253.82 323.00V320.00M253.82 39.00V42.00M259.76 323.00V320.00M259.76 39.00V42.00M264.78 323.00V320.00M264.78 39.00V42.00M269.13 323.00V320.00M269.13 39.00V42.00M272.97 323.00V320.00M272.97 39.00V42.00M276.40 323.00V317.00M276.40 39.00V45.00M298.98 323.00V320.00M298.98 39.00V42.00M312.18 323.00V320.00M312.18 39.00V42.00M321.55 323.00V320.00M321.55 39.00V42.00M328.82 323.00V320.00M328.82 39.00V42.00M334.76 323.00V320.00M334.76 39.00V42.00M339.78 323.00V320.00M339.78 39.00V42.00M344.13 323.00V320.00M344.13 39.00V42.00M347.97 323.00V320.00M347.97 39.00V42.00M351.40 323.00V317.00M351.40 39.00V45.00M373.98 323.00V320.00M373.98 39.00V42.00M387.18 323.00V320.00M387.18 39.00V42.00M396.55 323.00V320.00M396.55 39.00V42.00M403.82 323.00V320.00M403.82 39.00V42.00M409.76 323.00V320.00M409.76 39.00V42.00M414.78 323.00V320.00M414.78 39.00V42.00M50.80 323.00H56.30M419.00 323.00H413.50M50.80 315.88H53.80M419.00 315.88H416.00M50.80 311.71H53.80M419.00 311.71H416.00M50.80 308.76H53.80M419.00 308.76H416.00M50.80 306.46H53.80M419.00 306.46H416.00M50.80 304.59H53.80M419.00 304.59H416.00M50.80 303.00H53.80M419.00 303.00H416.00M50.80 301.63H53.80M419.00 301.63H416.00M50.80 300.42H53.80M419.00 300.42H416.00M50.80 299.34H56.30M419.00 299.34H413.50M50.80 292.21H53.80M419.00 292.21H416.00M50.80 288.04H53.80M419.00 288.04H416.00M50.80 285.09H53.80M419.00 285.09H416.00M50.80 282.79H53.80M419.00 282.79H416.00M50.80 280.92H53.80M419.00 280.92H416.00M50.80 279.34H53.80M419.00 279.34H416.00M50.80 277.96H53.80M419.00 277.96H416.00M50.80 276.75H53.80M419.00 276.75H416.00M50.80 275.67H56.30M419.00 275.67H413.50M50.80 268.55H53.80M419.00 268.55H416.00M50.80 264.38H53.80M419.00 264.38H416.00M50.80 261.42H53.80M419.00 261.42H416.00M50.80 259.13H53.80M419.00 259.13H416.00M50.80 257.25H53.80M419.00 257.25H416.00M50.80 255.67H53.80M419.00 255.67H416.00M50.80 254.30H53.80M419.00 254.30H416.00M50.80 253.09H53.80M419.00 253.09H416.00M50.80 252.00H56.30M419.00 252.00H413.50M50.80 244.88H53.80M419.00 244.88H416.00M50.80 240.71H53.80M419.00 240.71H416.00M50.80 237.75H53.80M419.00 237.75H416.00M50.80 235.46H53.80M419.00 235.46H416.00M50.80 233.59H53.80M419.00 233.59H416.00M50.80 232.00H53.80M419.00 232.00H416.00M50.80 230.63H53.80M419.00 230.63H416.00M50.80 229.42H53.80M419.00 229.42H416.00M50.80 228.34H56.30M419.00 228.34H413.50M50.80 221.21H53.80M419.00 221.21H416.00M50.80 217.04H53.80M419.00 217.04H416.00M50.80 214.09H53.80M419.00 214.09H416.00M50.80 211.79H53.80M419.00 211.79H416.00M50.80 209.92H53.80M419.00 209.92H416.00M50.80 208.34H53.80M419.00 208.34H416.00M50.80 206.96H53.80M419.00 206.96H416.00M50.80 205.75H53.80M419.00 205.75H416.00M50.80 204.67H56.30M419.00 204.67H413.50M50.80 197.54H53.80M419.00 197.54H416.00M50.80 193.38H53.80M419.00 193.38H416.00M50.80 190.42H53.80M419.00 190.42H416.00M50.80 188.13H53.80M419.00 188.13H416.00M50.80 186.25H53.80M419.00 186.25H416.00M50.80 184.67H53.80M419.00 184.67H416.00M50.80 183.30H53.80M419.00 183.30H416.00M50.80 182.08H53.80M419.00 182.08H416.00M50.80 181.00H56.30M419.00 181.00H413.50M50.80 173.88H53.80M419.00 173.88H416.00M50.80 169.71H53.80M419.00 169.71H416.00M50.80 166.75H53.80M419.00 166.75H416.00M50.80 164.46H53.80M419.00 164.46H416.00M50.80 162.59H53.80M419.00 162.59H416.00M50.80 161.00H53.80M419.00 161.00H416.00M50.80 159.63H53.80M419.00 159.63H416.00M50.80 158.42H53.80M419.00 158.42H416.00M50.80 157.34H56.30M419.00 157.34H413.50M50.80 150.21H53.80M419.00 150.21H416.00M50.80 146.04H53.80M419.00 146.04H416.00M50.80 143.09H53.80M419.00 143.09H416.00M50.80 140.79H53.80M419.00 140.79H416.00M50.80 138.92H53.80M419.00 138.92H416.00M50.80 137.33H53.80M419.00 137.33H416.00M50.80 135.96H53.80M419.00 135.96H416.00M50.80 134.75H53.80M419.00 134.75H416.00M50.80 133.67H56.30M419.00 133.67H413.50M50.80 126.54H53.80M419.00 126.54H416.00M50.80 122.38H53.80M419.00 122.38H416.00M50.80 119.42H53.80M419.00 119.42H416.00M50.80 117.13H53.80M419.00 117.13H416.00M50.80 115.25H53.80M419.00 115.25H416.00M50.80 113.67H53.80M419.00 113.67H416.00M50.80 112.29H53.80M419.00 112.29H416.00M50.80 111.08H53.80M419.00 111.08H416.00M50.80 110.00H56.30M419.00 110.00H413.50M50.80 102.88H53.80M419.00 102.88H416.00M50.80 98.71H53.80M419.00 98.71H416.00M50.80 95.75H53.80M419.00 95.75H416.00M50.80 93.46H53.80M419.00 93.46H416.00M50.80 91.58H53.80M419.00 91.58H416.00M50.80 90.00H53.80M419.00 90.00H416.00M50.80 88.63H53.80M419.00 88.63H416.00M50.80 87.42H53.80M419.00 87.42H416.00M50.80 86.33H56.30M419.00 86.33H413.50M50.80 79.21H53.80M419.00 79.21H416.00M50.80 75.04H53.80M419.00 75.04H416.00M50.80 72.09H53.80M419.00 72.09H416.00M50.80 69.79H53.80M419.00 69.79H416.00M50.80 67.92H53.80M419.00 67.92H416.00M50.80 66.33H53.80M419.00 66.33H416.00M50.80 64.96H53.80M419.00 64.96H416.00M50.80 63.75H53.80M419.00 63.75H416.00M50.80 62.67H56.30M419.00 62.67H413.50M50.80 55.54H53.80M419.00 55.54H416.00M50.80 51.37H53.80M419.00 51.37H416.00M50.80 48.42H53.80M419.00 48.42H416.00M50.80 46.12H53.80M419.00 46.12H416.00M50.80 44.25H53.80M419.00 44.25H416.00M50.80 42.67H53.80M419.00 42.67H416.00M50.80 41.29H53.80M419.00 41.29H416.00M50.80 40.08H53.80M419.00 40.08H416.00" stroke="#1a1a1a" stroke-width="1.2" fill="none"/>
<rect x="50.8" y="39.0" width="368.2" height="284.0" fill="none" stroke="#1a1a1a" stroke-width="1.5"/>
<line x1="87.5" y1="316.4" x2="181.6" y2="316.4" stroke="#3a3a3a" stroke-width="0.9"/><path d="M81.5 316.4L89.3 314.09999999999997L89.3 318.7Z M187.6 316.4L179.79999999999998 314.09999999999997L179.79999999999998 318.7Z" fill="#1a1a1a"/>
<line x1="206" y1="294.5" x2="335" y2="294.5" stroke="#3a3a3a" stroke-width="0.9"/><path d="M200 294.5L207.8 292.2L207.8 296.8Z M341 294.5L333.2 292.2L333.2 296.8Z" fill="#1a1a1a"/>
<line x1="298.6" y1="315.3" x2="385.6" y2="315.3" stroke="#3a3a3a" stroke-width="0.9"/><path d="M292.6 315.3L300.40000000000003 313.0L300.40000000000003 317.6Z M391.6 315.3L383.8 313.0L383.8 317.6Z" fill="#1a1a1a"/>
<text x="129.5" y="312.4" class="ab" textLength="17.3" lengthAdjust="spacingAndGlyphs">WLI</text>
<text x="224.6" y="291.4" class="ab" textLength="93.5" lengthAdjust="spacingAndGlyphs">AFM ( 35 µm x 35 µm)</text>
<text x="299.4" y="311.2" class="ab" textLength="83.2" lengthAdjust="spacingAndGlyphs">AFM ( 3 µm x 3 µm)</text>
<text x="45.6" y="328.0" class="tl" text-anchor="end">10<tspan font-size="8" dy="-6.2">0</tspan></text>
<text x="45.6" y="280.7" class="tl" text-anchor="end">10<tspan font-size="8" dy="-6.2">2</tspan></text>
<text x="45.6" y="233.3" class="tl" text-anchor="end">10<tspan font-size="8" dy="-6.2">4</tspan></text>
<text x="45.6" y="186.0" class="tl" text-anchor="end">10<tspan font-size="8" dy="-6.2">6</tspan></text>
<text x="45.6" y="138.7" class="tl" text-anchor="end">10<tspan font-size="8" dy="-6.2">8</tspan></text>
<text x="45.6" y="91.3" class="tl" text-anchor="end">10<tspan font-size="8" dy="-6.2">10</tspan></text>
<text x="45.6" y="44.0" class="tl" text-anchor="end">10<tspan font-size="8" dy="-6.2">12</tspan></text>
<text x="51.4" y="341.7" class="tl" text-anchor="middle">10<tspan font-size="8" dy="-6.2">-3</tspan></text>
<text x="201.4" y="341.7" class="tl" text-anchor="middle">10<tspan font-size="8" dy="-6.2">-1</tspan></text>
<text x="276.4" y="341.7" class="tl" text-anchor="middle">10<tspan font-size="8" dy="-6.2">0</tspan></text>
<text x="351.4" y="341.7" class="tl" text-anchor="middle">10<tspan font-size="8" dy="-6.2">1</tspan></text>
<text x="160.4" y="360.6" class="ax">spatial frequency [µm<tspan font-size="9" dy="-6">-1</tspan><tspan dy="6">]</tspan></text>
<text transform="translate(18.6,183.0) rotate(-90)" text-anchor="middle" class="ay">mean isotropic PSD [mm<tspan font-size="9.5" dy="-6.5">4</tspan><tspan dy="6.5">]</tspan></text>
<line x1="79.1" y1="2.2" x2="79.1" y2="39" stroke="#505050" stroke-width="1.3"/>
<line x1="292.4" y1="2.6" x2="292.4" y2="39" stroke="#333" stroke-width="1.1"/>
<line x1="391.8" y1="3.9" x2="391.8" y2="39" stroke="#333" stroke-width="1.1"/>
<path d="M79.3 15.2L92.6 2.6V9H279V2.6L292.2 15.2L279 27.7V21.9H92.6V27.7Z" fill="none" stroke="#8a8a8a" stroke-width="0.9"/>
<path d="M292.6 15L304.5 2.6V8.4H380.7V2.6L391.6 15L380.7 27.7V21.4H304.5V27.7Z" fill="none" stroke="#8a8a8a" stroke-width="0.9"/>
<text x="137.3" y="19.2" class="tw">waviness / roughness</text>
<text x="300" y="19" class="tw">microroughness</text>
<text x="2.4" y="14" class="pl">a)</text>
<text x="425" y="15.2" class="pl">b)</text>
<rect x="460.0" y="13.2" width="108.3" height="108.3" fill="url(#gi)"/>
<rect x="460.0" y="13.2" width="108.3" height="108.3" fill="#5a2800" filter="url(#fi)" opacity="0.22"/>
<ellipse cx="509.5" cy="97" rx="4" ry="9" fill="url(#gds)"/>
<polygon points="478.5,13.2 488.5,13.2 492.5,121.5 482.5,121.5" fill="url(#gst)"/>
<ellipse cx="536" cy="92" rx="4.5" ry="36" transform="rotate(-2.5 536 92)" fill="url(#gst3)"/>
<ellipse cx="536" cy="95" rx="4.5" ry="22" fill="url(#gbs)"/>
<rect x="460.0" y="13.2" width="41" height="18" fill="#f2d8dc" opacity="0.76"/>
<text x="466.1" y="26.799999999999997" class="il">initial</text>
<rect x="526.3" y="105.0" width="42" height="16.5" fill="#000"/>
<text x="548.3" y="114.5" class="sb" text-anchor="middle">1 µm</text>
<line x1="530.3" y1="119.3" x2="566.3" y2="119.3" stroke="#e8e8e8" stroke-width="1.7"/>
<rect x="575.0" y="13.2" width="108.3" height="108.3" filter="url(#f1)"/>
<ellipse cx="643.1" cy="62.5" rx="1.6" ry="0.9" fill="#fff2c8" opacity="0.8"/>
<ellipse cx="649.0" cy="58.8" rx="1.4" ry="1.0" fill="#fff2c8" opacity="0.8"/>
<ellipse cx="613.6" cy="51.4" rx="1.2" ry="1.3" fill="#fff2c8" opacity="0.8"/>
<ellipse cx="626.4" cy="99.0" rx="1.4" ry="1.0" fill="#fff2c8" opacity="0.8"/>
<ellipse cx="640.5" cy="69.3" rx="1.0" ry="1.2" fill="#fff2c8" opacity="0.8"/>
<ellipse cx="580.2" cy="58.8" rx="1.4" ry="1.3" fill="#fff2c8" opacity="0.8"/>
<ellipse cx="675.2" cy="75.2" rx="0.9" ry="1.2" fill="#fff2c8" opacity="0.8"/>
<ellipse cx="604.1" cy="84.2" rx="1.7" ry="1.0" fill="#fff2c8" opacity="0.8"/>
<ellipse cx="656.4" cy="53.2" rx="1.1" ry="1.2" fill="#fff2c8" opacity="0.8"/>
<ellipse cx="621.0" cy="52.8" rx="1.1" ry="1.2" fill="#fff2c8" opacity="0.8"/>
<ellipse cx="648.2" cy="44.4" rx="1.2" ry="1.0" fill="#fff2c8" opacity="0.8"/>
<ellipse cx="652.1" cy="50.1" rx="1.6" ry="0.9" fill="#fff2c8" opacity="0.8"/>
<rect x="575.0" y="13.2" width="63.4" height="18" fill="#f2d8dc" opacity="0.76"/>
<text x="580.4" y="26.7" class="il">N<tspan font-size="8.3" dy="2.8">2</tspan><tspan dy="-2.8"> process</tspan></text>
<rect x="641.3" y="105.0" width="42" height="16.5" fill="#000"/>
<text x="663.3" y="114.5" class="sb" text-anchor="middle">1 µm</text>
<line x1="645.3" y1="119.3" x2="681.3" y2="119.3" stroke="#e8e8e8" stroke-width="1.7"/>
<rect x="460.0" y="126.6" width="108.3" height="108.3" filter="url(#f2)"/>
<ellipse cx="508" cy="191" rx="8" ry="16" fill="url(#gds2)"/>
<ellipse cx="491.2" cy="183.6" rx="1.5" ry="1.5" fill="#fff2c8" opacity="0.8"/>
<ellipse cx="501.0" cy="183.0" rx="1.2" ry="1.2" fill="#fff2c8" opacity="0.8"/>
<ellipse cx="548.4" cy="214.4" rx="1.7" ry="1.5" fill="#fff2c8" opacity="0.8"/>
<rect x="460.0" y="126.6" width="90.4" height="18" fill="#f2d8dc" opacity="0.76"/>
<text x="466.6" y="140.1" class="il">O<tspan font-size="8.3" dy="2.8">2</tspan><tspan dy="-2.8"> process (1x)</tspan></text>
<rect x="526.3" y="218.39999999999998" width="42" height="16.5" fill="#000"/>
<text x="548.3" y="227.89999999999998" class="sb" text-anchor="middle">1 µm</text>
<line x1="530.3" y1="232.7" x2="566.3" y2="232.7" stroke="#e8e8e8" stroke-width="1.7"/>
<rect x="575.0" y="126.6" width="108.3" height="108.3" filter="url(#f3)"/>
<ellipse cx="588.6" cy="167.2" rx="1.7" ry="1.2" fill="#fff2c8" opacity="0.8"/>
<ellipse cx="639.7" cy="154.9" rx="1.3" ry="0.9" fill="#fff2c8" opacity="0.8"/>
<ellipse cx="665.6" cy="159.5" rx="1.7" ry="1.1" fill="#fff2c8" opacity="0.8"/>
<rect x="575.0" y="126.6" width="84.8" height="18" fill="#f2d8dc" opacity="0.76"/>
<text x="580.4" y="140.1" class="il">O<tspan font-size="8.3" dy="2.8">2</tspan><tspan dy="-2.8"> process (3x)</tspan></text>
<rect x="641.3" y="218.39999999999998" width="42" height="16.5" fill="#000"/>
<text x="663.3" y="227.89999999999998" class="sb" text-anchor="middle">1 µm</text>
<line x1="645.3" y1="232.7" x2="681.3" y2="232.7" stroke="#e8e8e8" stroke-width="1.7"/>
<rect x="460.0" y="240.6" width="108.3" height="108.3" filter="url(#f4)"/>
<ellipse cx="495.4" cy="297.1" rx="1.3" ry="1.1" fill="#fff2c8" opacity="0.8"/>
<ellipse cx="497.5" cy="276.2" rx="0.9" ry="1.2" fill="#fff2c8" opacity="0.8"/>
<rect x="460.0" y="240.6" width="90.4" height="18" fill="#f2d8dc" opacity="0.76"/>
<text x="466.6" y="254.1" class="il">O<tspan font-size="8.3" dy="2.8">2</tspan><tspan dy="-2.8"> process (10x)</tspan></text>
<rect x="526.3" y="332.4" width="42" height="16.5" fill="#000"/>
<text x="548.3" y="341.9" class="sb" text-anchor="middle">1 µm</text>
<line x1="530.3" y1="346.7" x2="566.3" y2="346.7" stroke="#e8e8e8" stroke-width="1.7"/>
<rect x="575.0" y="240.6" width="108.3" height="108.3" filter="url(#f5)"/>
<ellipse cx="633.4" cy="283.7" rx="1.3" ry="0.9" fill="#fff2c8" opacity="0.8"/>
<ellipse cx="603.8" cy="299.9" rx="1.0" ry="1.0" fill="#fff2c8" opacity="0.8"/>
<rect x="575.0" y="240.6" width="90.6" height="18" fill="#f2d8dc" opacity="0.76"/>
<text x="580.4" y="254.1" class="il">O<tspan font-size="8.3" dy="2.8">2</tspan><tspan dy="-2.8"> process (20x)</tspan></text>
<rect x="641.3" y="332.4" width="42" height="16.5" fill="#000"/>
<text x="663.3" y="341.9" class="sb" text-anchor="middle">1 µm</text>
<line x1="645.3" y1="346.7" x2="681.3" y2="346.7" stroke="#e8e8e8" stroke-width="1.7"/>
<rect x="439.8" y="154.7" width="4.6" height="55.8" fill="url(#gcb)" stroke="#555" stroke-width="0.6"/>
<text x="428" y="148.7" class="cb">30 nm</text>
<text x="441.2" y="226.4" class="cb" text-anchor="middle">0</text>
</svg>
</body></html>
